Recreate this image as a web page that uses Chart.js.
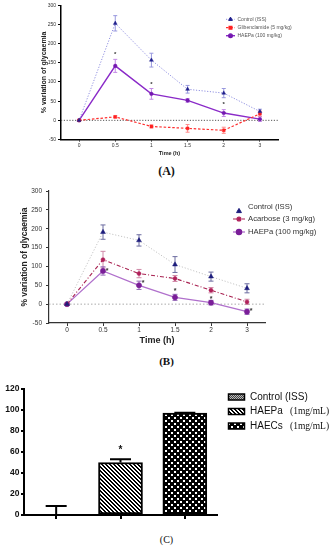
<!DOCTYPE html>
<html><head><meta charset="utf-8">
<script src="https://cdn.jsdelivr.net/npm/chart.js@4/dist/chart.umd.min.js"></script>
<style>
body{margin:0;background:#fff;}
#wrap{position:relative;width:333px;height:550px;background:#fff;overflow:hidden;}
canvas{position:absolute;left:0;}
.lbl{position:absolute;left:0;width:333px;text-align:center;font-family:"Liberation Serif",serif;color:#111;line-height:1;}
</style></head><body>
<div id="wrap">
<canvas id="cA" width="333" height="160" style="top:0"></canvas>
<div class="lbl" style="top:165px;font-size:12px;font-weight:bold;">(A)</div>
<canvas id="cB" width="333" height="165" style="top:183px"></canvas>
<div class="lbl" style="top:356px;font-size:11px;font-weight:bold;">(B)</div>
<canvas id="cC" width="333" height="150" style="top:375px"></canvas>
<div class="lbl" style="top:535px;font-size:10px;">(C)</div>
</div>
<script>
// ---------- DATA ----------
const timeLabels = ['0','0.5','1','1.5','2','3'];
const lineYTicks = [-50,0,50,100,150,200,250,300];

// Panel A
const aSeriesNames = ['Control (ISS)','Glibenclamide (5 mg/kg)','HAEPa (100 mg/kg)'];
const aControl    = [0,253,157,81,71,23];
const aControlErr = [0,20,18,10,12,6];
const aGliben     = [0,9,-16,-21,-26,17];
const aGlibenErr  = [0,3,4,10,8,7];
const aHaepa      = [0,142,69,52,19,3];
const aHaepaErr   = [0,17,14,5,9,6];
const aStars      = [null,176,98,null,46,null];

// Panel B
const bSeriesNames = ['Control (ISS)','Acarbose (3 mg/kg)','HAEPa (100 mg/kg)'];
const bControl     = [0,191,169,105,73,42];
const bControlErr  = [0,19,15,21,12,12];
const bAcarbose    = [0,118,81,68,37,6];
const bAcarboseErr = [0,22,11,8,7,7];
const bHaepa       = [0,88,50,18,4,-20];
const bHaepaErr    = [0,11,11,8,6,7];
const bStars       = [null,94,61,39,18,-13];

// Panel C
const cGroups = ['Control (ISS)','HAEPa','HAECs'];
const cDoses  = ['','(1mg/mL)','(1mg/mL)'];
const cValues = [0,50,97];
const cErrors = [8.6,3,0.5];
const cStars  = [null,60,null];
const cYTicks = [0,20,40,60,80,100,120];

// ---------- PLUGINS ----------
function drawErr(chart, before){
  const o = chart.options.plugins.errbars || {};
  if(!!o.before !== before) return;
  const ctx = chart.ctx, ys = chart.scales.y;
  chart.data.datasets.forEach((ds,i)=>{
    if(!ds.errors) return;
    const meta = chart.getDatasetMeta(i);
    ctx.save();
    ctx.strokeStyle = ds.errColor || '#000';
    ctx.lineWidth = ds.errWidth || 1;
    ctx.setLineDash([]);
    const cap = ds.errCap || 2;
    meta.data.forEach((el,j)=>{
      const e = ds.errors[j]; if(!e) return;
      const v = ds.data[j];
      const x = el.x;
      const yTop = ys.getPixelForValue(v+e);
      const yBot = o.upOnly ? ys.getPixelForValue(v) : ys.getPixelForValue(v-e);
      ctx.beginPath();
      ctx.moveTo(x,yTop); ctx.lineTo(x,yBot);
      ctx.moveTo(x-cap,yTop); ctx.lineTo(x+cap,yTop);
      if(!o.upOnly){ ctx.moveTo(x-cap,yBot); ctx.lineTo(x+cap,yBot); }
      ctx.stroke();
    });
    ctx.restore();
  });
}
const errBars = {
  id:'errbars',
  beforeDatasetsDraw(chart){ drawErr(chart,true); },
  afterDatasetsDraw(chart){ drawErr(chart,false); }
};
const zeroLine = {
  id:'zeroLine',
  beforeDatasetsDraw(chart, args, o){
    if(!o || !o.color) return;
    const ctx = chart.ctx, a = chart.chartArea, y = chart.scales.y.getPixelForValue(0);
    ctx.save(); ctx.strokeStyle=o.color; ctx.lineWidth=o.width||1; ctx.setLineDash(o.dash||[1,2]);
    ctx.beginPath(); ctx.moveTo(a.left,y); ctx.lineTo(a.right,y); ctx.stroke(); ctx.restore();
  }
};
const stars = {
  id:'stars',
  afterDatasetsDraw(chart, args, o){
    if(!o || !o.values) return;
    const ctx = chart.ctx, xs = chart.scales.x, ys = chart.scales.y;
    ctx.save(); ctx.fillStyle=o.color||'#000'; ctx.font=o.font; ctx.textAlign='center'; ctx.textBaseline='middle';
    o.values.forEach((v,i)=>{
      if(v===null) return;
      const dx = (o.dx && o.dx[i]) || 0;
      ctx.fillText('*', xs.getPixelForValue(i)+dx, ys.getPixelForValue(v)+(o.dy||0));
    });
    ctx.restore();
  }
};
const customLegend = {
  id:'customLegend',
  afterDraw(chart, args, o){
    if(!o || !o.rows) return;
    const ctx = chart.ctx;
    if(o.swatches){
      o.rows.forEach((y,i)=>{
        ctx.save();
        ctx.fillStyle = o.swatches[i];
        ctx.fillRect(o.sx, y-o.sh/2, o.sw, o.sh);
        ctx.strokeStyle='#000'; ctx.lineWidth=1.5;
        ctx.strokeRect(o.sx, y-o.sh/2, o.sw, o.sh);
        ctx.fillStyle=o.color; ctx.textBaseline='middle'; ctx.font=o.font;
        ctx.fillText(o.texts[i], o.tx, y);
        if(o.texts2[i]){ ctx.font=o.font2; ctx.fillText(o.texts2[i], o.tx2, y); }
        ctx.restore();
      });
      return;
    }
    chart.data.datasets.forEach((ds,i)=>{
      const y = o.rows[i];
      const my = y + ((o.markerDy && o.markerDy[i]) || 0);
      ctx.save();
      if(!(o.noLine && o.noLine[i])){
        ctx.strokeStyle=ds.borderColor; ctx.lineWidth=ds.borderWidth; ctx.setLineDash(ds.borderDash||[]);
        ctx.beginPath(); ctx.moveTo(o.x1,my); ctx.lineTo(o.x2,my); ctx.stroke(); ctx.setLineDash([]);
      }
      ctx.fillStyle=ds.pointBackgroundColor; ctx.strokeStyle=ds.pointBorderColor;
      Chart.helpers.drawPoint(ctx,{pointStyle:ds.pointStyle,radius:ds.pointRadius,borderWidth:ds.pointBorderWidth||0.5,rotation:0},(o.x1+o.x2)/2,my);
      ctx.fillStyle=o.color; ctx.font=o.font; ctx.textBaseline='middle';
      ctx.fillText(ds.label, o.tx, y);
      ctx.restore();
    });
  }
};
Chart.register(errBars, zeroLine, stars, customLegend);

// ---------- HELPERS ----------
const FF = '"Liberation Sans", Arial, sans-serif';
function lineDs(label, vals, errs, st){
  return Object.assign({label, data: vals, errors: errs, fill:false, tension:0}, st);
}
function lineOptions(c){
  return {
    responsive:false, animation:false, events:[],
    layout:{padding:c.pad},
    plugins:{legend:{display:false}, tooltip:{enabled:false}, errbars:{before:true},
      zeroLine:c.zero, stars:c.stars, customLegend:c.legend},
    scales:{
      x:{type:'category', offset:true,
        afterFit:s=>{s.height=c.xH;},
        grid:{offset:false, drawOnChartArea:false, drawTicks:true, tickLength:c.xTick, color:c.axisColor},
        border:{color:c.axisColor, width:c.axisW},
        ticks:{font:c.xTickFont, color:c.tickColor, padding:c.xTickPad, maxRotation:0, autoSkip:false},
        title:{display:true, text:'Time (h)', font:c.xTitleFont, color:c.titleColor, padding:{top:0,bottom:c.xTitlePad}}},
      y:{min:-50, max:300,
        afterBuildTicks:s=>{s.ticks=lineYTicks.map(v=>({value:v}));},
        afterFit:s=>{s.width=c.yW;},
        grid:{drawOnChartArea:false, drawTicks:true, tickLength:c.yTick, color:c.axisColor},
        border:{color:c.axisColor, width:c.axisW},
        ticks:{font:c.yTickFont, color:c.tickColor, padding:c.yTickPad},
        title:{display:true, text:'% variation of glycaemia', font:c.yTitleFont, color:c.titleColor, padding:0}}
    }
  };
}

// ---------- CHART A ----------
new Chart(document.getElementById('cA'), {
  type:'line',
  data:{labels:timeLabels, datasets:[
    lineDs(aSeriesNames[0], aControl, aControlErr, {borderColor:'#8f8fe0', borderWidth:1, borderDash:[1.2,1.6], pointStyle:'triangle', pointRadius:2.2, pointBackgroundColor:'#20208c', pointBorderColor:'#20208c', pointBorderWidth:0.5, errColor:'#9898de', errCap:2}),
    lineDs(aSeriesNames[1], aGliben, aGlibenErr, {borderColor:'#ff3030', borderWidth:1.2, borderDash:[2.5,1.8], pointStyle:'rect', pointRadius:2, pointBackgroundColor:'#ff2020', pointBorderColor:'#ff2020', pointBorderWidth:0.5, errColor:'#ff8c8c', errCap:2}),
    lineDs(aSeriesNames[2], aHaepa, aHaepaErr, {borderColor:'#8a2ac8', borderWidth:1.4, pointStyle:'circle', pointRadius:1.8, pointBackgroundColor:'#7418b0', pointBorderColor:'#7418b0', pointBorderWidth:0.5, errColor:'#c48ae6', errCap:2})
  ]},
  options: lineOptions({
    pad:{left:40, top:5.3, right:55, bottom:0},
    xH:20.5, yW:21, xTick:2, yTick:3, xTickPad:1, yTickPad:2, xTitlePad:3.7,
    axisColor:'#000', axisW:1.5, tickColor:'#333', titleColor:'#222',
    xTickFont:{family:FF,size:5}, yTickFont:{family:FF,size:5},
    xTitleFont:{family:FF,size:5.5,weight:'bold'}, yTitleFont:{family:FF,size:7,weight:'bold'},
    zero:{color:'#444', width:0.9, dash:[1.2,1.6]},
    stars:{values:aStars, font:'bold 6px '+FF, color:'#333', dy:1.5},
    legend:{rows:[19.3,27.7,35.7], x1:226, x2:235, tx:237.5, font:'5px '+FF, color:'#555'}
  })
});

// ---------- CHART B ----------
new Chart(document.getElementById('cB'), {
  type:'line',
  data:{labels:timeLabels, datasets:[
    lineDs(bSeriesNames[0], bControl, bControlErr, {borderColor:'#c4c4c4', borderWidth:1, borderDash:[1.2,1.8], pointStyle:'triangle', pointRadius:2.8, pointBackgroundColor:'#1c1c7c', pointBorderColor:'#1c1c7c', pointBorderWidth:0.5, errColor:'#6c6ca0', errCap:2.5}),
    lineDs(bSeriesNames[1], bAcarbose, bAcarboseErr, {borderColor:'#a82050', borderWidth:1.1, borderDash:[4,2,1,2], pointStyle:'circle', pointRadius:2, pointBackgroundColor:'#b0205a', pointBorderColor:'#b0205a', pointBorderWidth:0.5, errColor:'#d08aa8', errCap:2.5}),
    lineDs(bSeriesNames[2], bHaepa, bHaepaErr, {borderColor:'#b070cc', borderWidth:1.3, pointStyle:'circle', pointRadius:2.6, pointBackgroundColor:'#7a1e98', pointBorderColor:'#7a1e98', pointBorderWidth:0.5, errColor:'#9468b8', errCap:2.5})
  ]},
  options: lineOptions({
    pad:{left:20, top:8, right:68, bottom:0},
    xH:25, yW:29, xTick:3, yTick:3, xTickPad:0.5, yTickPad:4, xTitlePad:1.6,
    axisColor:'#333', axisW:1.2, tickColor:'#333', titleColor:'#222',
    xTickFont:{family:FF,size:6.5}, yTickFont:{family:FF,size:6.5},
    xTitleFont:{family:FF,size:9,weight:'bold'}, yTitleFont:{family:FF,size:8.5,weight:'bold'},
    zero:{color:'#aaa', width:1, dash:[1.5,2]},
    stars:{values:bStars, dx:[0,4,4,0,0,4], font:'bold 7px '+FF, color:'#333', dy:2},
    legend:{rows:[23.7,36,49], markerDy:[4.5,0,0], noLine:[true,false,false], x1:233, x2:245, tx:248, font:'7.7px '+FF, color:'#333'}
  })
});

// ---------- CHART C ----------
const cCtx = document.getElementById('cC').getContext('2d');
function makePattern(kind){
  const t = document.createElement('canvas'); const g = t.getContext('2d');
  if(kind==='stripe'){
    t.width=t.height=4; g.fillStyle='#fff'; g.fillRect(0,0,4,4); g.fillStyle='#000';
    for(let i=0;i<4;i++){ g.fillRect(i,i,1,1); g.fillRect((i+1)%4,i,1,1); }
  } else if(kind==='dots'){
    t.width=t.height=6; g.fillStyle='#000'; g.fillRect(0,0,6,6); g.fillStyle='#fff';
    g.fillRect(0,0,2,2); g.fillRect(3,3,2,2);
  } else {
    t.width=t.height=2; g.fillStyle='#bbb'; g.fillRect(0,0,2,2); g.fillStyle='#444';
    g.fillRect(0,0,1,1); g.fillRect(1,1,1,1);
  }
  return cCtx.createPattern(t,'repeat');
}
const cFills = [makePattern('grey'), makePattern('stripe'), makePattern('dots')];

new Chart(cCtx, {
  type:'bar',
  data:{labels:cGroups, datasets:[{
    label:'C', data:cValues, errors:cErrors, errColor:'#000', errWidth:2, errCap:10.5,
    backgroundColor:cFills, borderColor:'#000', borderWidth:2, borderSkipped:false, barThickness:44
  }]},
  options:{
    responsive:false, animation:false, events:[],
    layout:{padding:{left:0, top:14, right:116, bottom:0}},
    plugins:{legend:{display:false}, tooltip:{enabled:false}, errbars:{before:false, upOnly:true},
      stars:{values:cStars, font:'bold 10px '+FF, color:'#111', dy:-2},
      customLegend:{rows:[22,36.5,51], swatches:cFills, sx:228.5, sw:16, sh:6, tx:250, tx2:290,
        texts:cGroups, texts2:cDoses, font:'10px '+FF, font2:'9.5px "Liberation Serif", serif', color:'#111'}},
    scales:{
      x:{type:'category', offset:true, afterFit:s=>{s.height=10;},
        grid:{offset:false, drawOnChartArea:false, drawTicks:true, tickLength:4, color:'#000', lineWidth:2},
        border:{color:'#000', width:2}, ticks:{display:false}},
      y:{min:0, max:120, afterBuildTicks:s=>{s.ticks=cYTicks.map(v=>({value:v}));},
        afterFit:s=>{s.width=24;},
        grid:{drawOnChartArea:false, drawTicks:true, tickLength:3, color:'#000', lineWidth:2},
        border:{color:'#000', width:2},
        ticks:{font:{family:FF,size:8.5,weight:'bold'}, color:'#111', padding:1.5}}
    }
  }
});
</script>
</body></html>
